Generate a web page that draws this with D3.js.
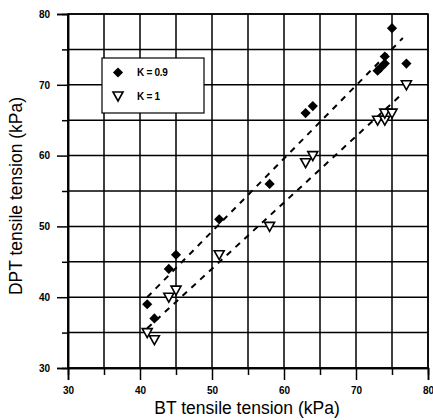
<!DOCTYPE html>
<html>
<head>
<meta charset="utf-8">
<script src="https://cdn.jsdelivr.net/npm/d3@7"></script>
<style>
  body { margin: 0; background: #fff; }
  svg { display: block; font-family: "Liberation Sans", Arial, sans-serif; }
</style>
</head>
<body>
<div id="chart"></div>
<script>
// K = 0.9 series (BT, DPT)
const k09X = [41, 42, 44, 45, 51, 58, 63, 64, 73, 73.4, 74, 74, 75, 77];
const k09Y = [39, 37, 44, 46, 51, 56, 66, 67, 72, 72.4, 73, 74, 78, 73];
// K = 1 series
const k1X = [41, 42, 44, 45, 51, 58, 63, 64, 73, 74, 74, 75, 77];
const k1Y = [35, 34, 40, 41, 46, 50, 59, 60, 65, 65, 66, 66, 70];
// dashed trend lines (end points)
const fit09 = [[41, 40], [76.5, 76.6]];
const fit1 = [[41, 35.6], [76.5, 68.8]];

const majorTicks = [30, 40, 50, 60, 70, 80];
const minorTicks = [35, 45, 55, 65, 75];
const legendLabels = ["K = 0.9", "K = 1"];

const margin = {top: 14, right: 5, bottom: 52, left: 68};
const width = 433 - margin.left - margin.right;
const height = 420 - margin.top - margin.bottom;

const svg = d3.select("#chart").append("svg")
    .attr("width", 433)
    .attr("height", 420);

const g = svg.append("g")
    .attr("transform", `translate(${margin.left}, ${margin.top})`);

const x = d3.scaleLinear().domain([30, 80]).range([0, width]);
const y = d3.scaleLinear().domain([30, 80]).range([height, 0]);

// grid
const gridVals = majorTicks.concat(minorTicks);
g.selectAll(".vgrid").data(gridVals).enter().append("line")
    .attr("x1", d => x(d)).attr("x2", d => x(d))
    .attr("y1", 0).attr("y2", height)
    .attr("stroke", "#000").attr("stroke-width", 1.5);
g.selectAll(".hgrid").data(gridVals).enter().append("line")
    .attr("y1", d => y(d)).attr("y2", d => y(d))
    .attr("x1", 0).attr("x2", width)
    .attr("stroke", "#000").attr("stroke-width", 1.5);

// axes
const xAxis = g.append("g")
    .attr("transform", `translate(0, ${height})`)
    .call(d3.axisBottom(x).tickValues(majorTicks).tickSize(12).tickPadding(7).tickFormat(d3.format("d")));
const xMinor = g.append("g")
    .attr("transform", `translate(0, ${height})`)
    .call(d3.axisBottom(x).tickValues(minorTicks).tickSize(7).tickFormat(""));
const yAxis = g.append("g")
    .call(d3.axisLeft(y).tickValues(majorTicks).tickSize(11).tickPadding(7).tickFormat(d3.format("d")));
const yMinor = g.append("g")
    .call(d3.axisLeft(y).tickValues(minorTicks).tickSize(6).tickFormat(""));

[xAxis, xMinor, yAxis, yMinor].forEach(a => {
    a.select(".domain").attr("stroke-width", 1.5);
    a.selectAll(".tick line").attr("stroke-width", 1.5);
    a.selectAll("text")
        .attr("font-size", 10)
        .attr("font-weight", "bold")
        .attr("font-family", "Liberation Sans, Arial, sans-serif");
});

// frame
g.append("rect")
    .attr("width", width).attr("height", height)
    .attr("fill", "none").attr("stroke", "#000").attr("stroke-width", 1.5);

// trend lines
const line = d3.line().x(d => x(d[0])).y(d => y(d[1]));
[fit09, fit1].forEach(f => {
    g.append("path")
        .attr("d", line(f))
        .attr("fill", "none")
        .attr("stroke", "#000")
        .attr("stroke-width", 2)
        .attr("stroke-dasharray", "6,6");
});

// markers
const diamond = d3.symbol().type(d3.symbolDiamond2).size(66);
const tri = "M-5,-4L5,-4L0,5Z";

g.selectAll(".k09").data(k09X).enter().append("path")
    .attr("d", diamond())
    .attr("transform", (d, i) => `translate(${x(d)}, ${y(k09Y[i])})`)
    .attr("fill", "#000");

g.selectAll(".k1").data(k1X).enter().append("path")
    .attr("d", tri)
    .attr("transform", (d, i) => `translate(${x(d)}, ${y(k1Y[i])})`)
    .attr("fill", "#fff").attr("stroke", "#000").attr("stroke-width", 1.6);

// legend
const leg = svg.append("g").attr("transform", "translate(102, 58)");
leg.append("rect")
    .attr("width", 102).attr("height", 55)
    .attr("fill", "#fff").attr("stroke", "#000").attr("stroke-width", 1.2);
leg.append("path").attr("d", diamond()).attr("transform", "translate(16, 14.5)").attr("fill", "#000");
leg.append("path").attr("d", tri).attr("transform", "translate(16, 38)")
    .attr("fill", "#fff").attr("stroke", "#000").attr("stroke-width", 1.6);
leg.selectAll(".lt").data(legendLabels).enter().append("text")
    .attr("x", 35).attr("y", (d, i) => 18 + i * 24)
    .attr("font-size", 10).attr("font-weight", "bold")
    .attr("letter-spacing", -0.3)
    .text(d => d);

// axis titles
svg.append("text")
    .attr("x", margin.left + width / 2 - 1).attr("y", 414)
    .attr("text-anchor", "middle").attr("font-size", 17.5)
    .text("BT tensile tension (kPa)");
svg.append("text")
    .attr("transform", `translate(22, ${margin.top + height / 2 + 5}) rotate(-90)`)
    .attr("text-anchor", "middle").attr("font-size", 17.5)
    .text("DPT tensile tension (kPa)");
</script>
</body>
</html>
